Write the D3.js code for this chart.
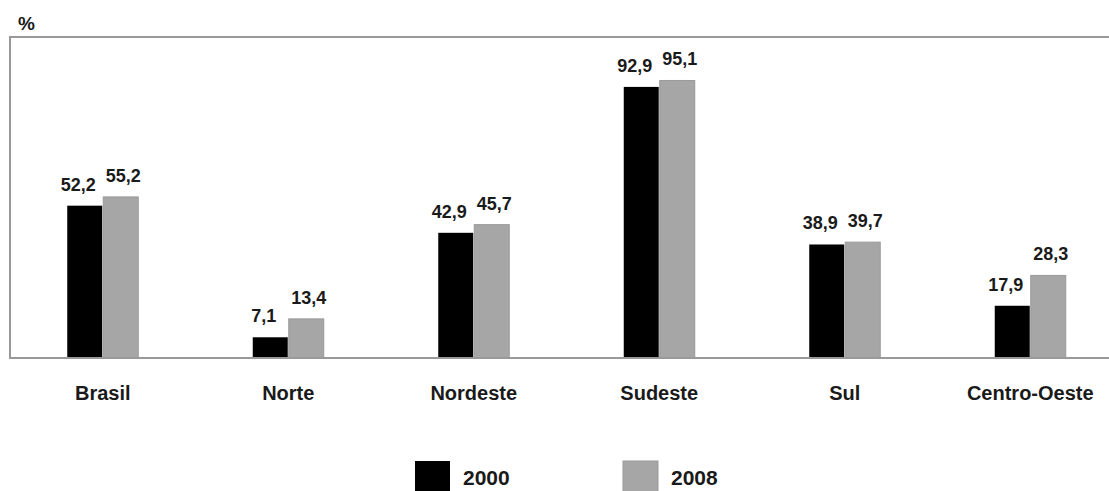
<!DOCTYPE html>
<html><head><meta charset="utf-8">
<script src="https://cdn.jsdelivr.net/npm/d3@7"></script>
<style>body{margin:0;background:#fff}svg{display:block}text{font-family:"Liberation Sans",Arial,sans-serif;font-weight:bold;fill:#1a1a1a}</style>
</head><body><svg id="c" width="1109" height="491"></svg>
<script>
const categories = ["Brasil","Norte","Nordeste","Sudeste","Sul","Centro-Oeste"];
const values2000 = [52.2, 7.1, 42.9, 92.9, 38.9, 17.9];
const values2008 = [55.2, 13.4, 45.7, 95.1, 39.7, 28.3];
const seriesNames = ["2000","2008"];
const seriesColors = ["#000000","#a6a6a6"];
const fmt = v => String(v).replace(".", ",");

const svg = d3.select("#c");
const mLeft = 10, mTop = 37, mBottom = 358, mRight = 1123;
const x = d3.scaleBand().domain(categories).range([mLeft, mRight]).padding(0);
const y = d3.scaleLinear().domain([0, 110]).range([mBottom, mTop]);
const bw = 35;

// bars
const series = [values2000, values2008];
series.forEach((vals, si) => {
  svg.append("g").selectAll("rect").data(categories).join("rect")
    .attr("x", (d) => x(d) + x.bandwidth()/2 + (si === 0 ? -bw - 0.5 : 0.5))
    .attr("y", (d,i) => y(vals[i]))
    .attr("width", bw)
    .attr("height", (d,i) => mBottom - y(vals[i]))
    .attr("fill", seriesColors[si])
    .attr("stroke", si === 0 ? "none" : "#999")
    .attr("stroke-width", 1);
  svg.append("g").selectAll("text").data(categories).join("text")
    .attr("x", (d) => x(d) + x.bandwidth()/2 + (si === 0 ? -bw/2 - 7 : bw/2 + 3))
    .attr("y", (d,i) => y(vals[i]) - 15)
    .attr("text-anchor", "middle")
    .attr("font-size", 18)
    .text((d,i) => fmt(vals[i]));
});

// frame
svg.append("line").attr("x1", mLeft).attr("x2", 1109).attr("y1", mTop).attr("y2", mTop).attr("stroke", "#999").attr("stroke-width", 2);
svg.append("line").attr("x1", mLeft).attr("x2", mLeft).attr("y1", mTop - 1).attr("y2", mBottom + 1).attr("stroke", "#999").attr("stroke-width", 2);
svg.append("line").attr("x1", mLeft).attr("x2", 1109).attr("y1", mBottom).attr("y2", mBottom).attr("stroke", "#999").attr("stroke-width", 2);

// category axis labels
const xAxis = svg.append("g").attr("transform", `translate(0,${mBottom})`)
  .call(d3.axisBottom(x).tickSize(0).tickPadding(0));
xAxis.select(".domain").remove();
xAxis.selectAll("text").attr("y", 42).attr("dy", 0)
  .attr("font-size", 20).attr("font-family", "Liberation Sans, Arial, sans-serif").attr("font-weight", "bold").attr("fill", "#1a1a1a");

// unit label
svg.append("text").attr("x", 18).attr("y", 30).attr("font-size", 19).text("%");

// legend
const legX = [415, 623];
seriesNames.forEach((s, i) => {
  svg.append("rect").attr("x", legX[i]).attr("y", 461).attr("width", 35).attr("height", 32)
    .attr("fill", seriesColors[i]).attr("stroke", i === 0 ? "none" : "#999");
  svg.append("text").attr("x", legX[i] + 48).attr("y", 485).attr("font-size", 21).text(s);
});
</script></body></html>
